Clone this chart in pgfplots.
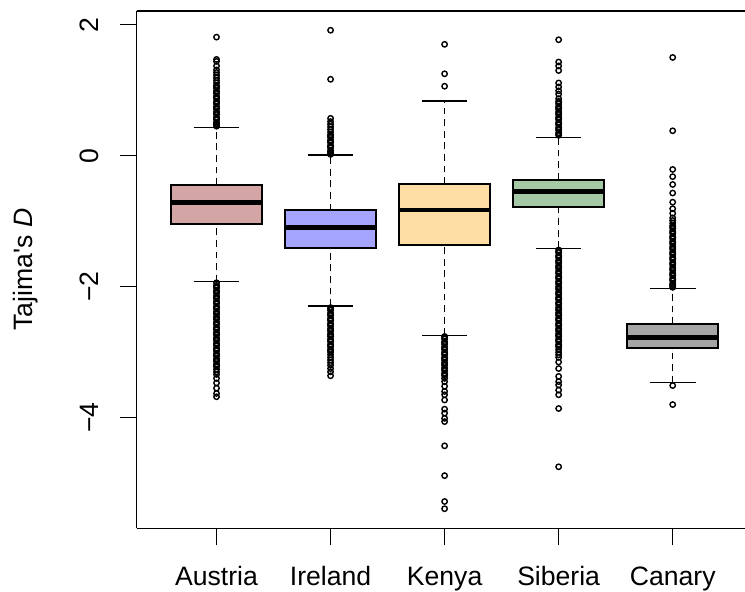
\documentclass[border=0pt]{standalone}
\usepackage{fontspec}
\setmainfont{Liberation Sans}
\usepackage{pgfplots}
\pgfplotsset{compat=1.18}
\usepgfplotslibrary{statistics}
\definecolor{cA}{HTML}{D4A5A5}
\definecolor{cI}{HTML}{A5A5FF}
\definecolor{cK}{HTML}{FFDEA5}
\definecolor{cS}{HTML}{A5C9A5}
\definecolor{cC}{HTML}{A5A5A5}
\pgfplotsset{
  boxplot/draw direction=y,
  boxplot/draw/lower whisker/.code={%
    \draw[line width=0.65bp, dash pattern=on 3.4bp off 2.4bp]
      (boxplot box cs:\pgfplotsboxplotvalue{lower whisker},0.5) --
      (boxplot box cs:\pgfplotsboxplotvalue{lower quartile},0.5);
    \draw[line width=0.65bp]
      (boxplot whisker cs:\pgfplotsboxplotvalue{lower whisker},0) --
      (boxplot whisker cs:\pgfplotsboxplotvalue{lower whisker},1);
  },
  boxplot/draw/upper whisker/.code={%
    \draw[line width=0.65bp, dash pattern=on 3.4bp off 2.4bp]
      (boxplot box cs:\pgfplotsboxplotvalue{upper quartile},0.5) --
      (boxplot box cs:\pgfplotsboxplotvalue{upper whisker},0.5);
    \draw[line width=0.65bp]
      (boxplot whisker cs:\pgfplotsboxplotvalue{upper whisker},0) --
      (boxplot whisker cs:\pgfplotsboxplotvalue{upper whisker},1);
  },
  boxplot/every box/.style={line width=0.9bp},
  boxplot/every median/.style={line width=2.3bp},
  rb/.style={draw=black, fill=#1, mark=o, mark size=1.35bp,
    mark options={line width=0.7bp, solid, draw=black, fill=none}},
}
\begin{document}
\begin{tikzpicture}
\begin{axis}[
  scale only axis, width=304.15bp, height=258.65bp,
  xmin=0.3, xmax=5.634, ymin=-5.689, ymax=2.209,
  separate axis lines, axis x line*=box, axis y line*=left,
  axis line style={line width=0.8bp},
  xtick={1,2,3,4,5}, xticklabels={Austria,Ireland,Kenya,Siberia,Canary},
  xtick pos=left,
  ytick={-4,-2,0,2}, yticklabels={−4,−2,0,2},
  tick align=outside, major tick length=8.5bp,
  tick style={line width=0.6bp, black},
  every tick label/.append style={font=\fontsize{13.3bp}{16bp}\selectfont},
  yticklabel style={rotate=90, anchor=south, inner sep=0pt},
  xticklabel style={anchor=north, inner sep=0pt},
  yticklabel shift=10.5bp, xticklabel shift=10.5bp,
  every axis y label/.style={at={(axis description cs:-0.1705,0.5)}, rotate=90, anchor=base, font=\fontsize{13.3bp}{16bp}\selectfont},
  ylabel={Tajima\textquotesingle s \textit{D}},
]
% Austria
\addplot[rb=cA, boxplot prepared={draw position=1, lower whisker=-1.924, lower quartile=-1.038, median=-0.718, upper quartile=-0.447, upper whisker=0.428, box extend=0.8, whisker extend=0.4}]
 table[row sep=\\, y index=0] {
 1.81\\ 1.47\\ 1.44\\ 1.37\\ 1.31\\ 1.27\\ 1.23\\ 1.19\\ 1.15\\ 1.11\\ 1.07\\ 1.03\\ 0.99\\ 0.95\\ 0.91\\ 0.87\\ 0.83\\ 0.79\\ 0.75\\ 0.71\\ 0.67\\ 0.63\\ 0.59\\ 0.55\\ 0.51\\ 0.47\\ 0.45\\
 1.05\\ 0.97\\ 0.89\\ 0.81\\ 0.73\\ 0.65\\ 0.57\\ 0.49\\
 -1.94\\ -1.98\\ -2.02\\ -2.06\\ -2.10\\ -2.14\\ -2.18\\ -2.22\\ -2.26\\ -2.30\\ -2.34\\ -2.38\\ -2.42\\ -2.46\\ -2.50\\ -2.54\\ -2.58\\ -2.62\\ -2.66\\ -2.70\\ -2.74\\ -2.78\\ -2.82\\ -2.86\\ -2.90\\ -2.94\\ -2.98\\ -3.02\\ -3.06\\ -3.10\\ -3.14\\ -3.18\\ -3.22\\ -3.26\\ -3.30\\ -3.34\\ -3.40\\ -3.47\\ -3.55\\ -3.63\\ -3.68\\
 -2.00\\ -2.08\\ -2.16\\ -2.24\\ -2.32\\ -2.40\\ -2.48\\ -2.56\\ -2.64\\ -2.72\\ -2.80\\ -2.88\\ -2.96\\ -3.04\\ -3.12\\ -3.20\\
 };
% Ireland
\addplot[rb=cI, boxplot prepared={draw position=2, lower whisker=-2.295, lower quartile=-1.414, median=-1.099, upper quartile=-0.834, upper whisker=0.01, box extend=0.8, whisker extend=0.4}]
 table[row sep=\\, y index=0] {
 1.915\\ 1.166\\ 0.57\\ 0.52\\ 0.48\\ 0.44\\ 0.40\\ 0.36\\ 0.32\\ 0.28\\ 0.24\\ 0.20\\ 0.16\\ 0.12\\ 0.08\\ 0.04\\ 0.02\\
 0.30\\ 0.22\\ 0.14\\ 0.06\\
 -2.32\\ -2.36\\ -2.40\\ -2.44\\ -2.48\\ -2.52\\ -2.56\\ -2.60\\ -2.64\\ -2.68\\ -2.72\\ -2.76\\ -2.80\\ -2.84\\ -2.88\\ -2.92\\ -2.96\\ -3.00\\ -3.04\\ -3.08\\ -3.12\\ -3.16\\ -3.20\\ -3.25\\ -3.30\\ -3.36\\
 -2.34\\ -2.42\\ -2.50\\ -2.58\\ -2.66\\ -2.74\\ -2.82\\ -2.90\\ -2.98\\
 };
% Kenya
\addplot[rb=cK, boxplot prepared={draw position=3, lower whisker=-2.742, lower quartile=-1.363, median=-0.829, upper quartile=-0.432, upper whisker=0.835, box extend=0.8, whisker extend=0.4}]
 table[row sep=\\, y index=0] {
 1.70\\ 1.25\\ 1.06\\
 -2.76\\ -2.80\\ -2.84\\ -2.88\\ -2.92\\ -2.96\\ -3.00\\ -3.04\\ -3.08\\ -3.12\\ -3.16\\ -3.20\\ -3.24\\ -3.28\\ -3.32\\ -3.36\\ -3.40\\ -3.45\\ -3.52\\ -3.60\\ -3.65\\ -3.73\\ -3.87\\ -3.93\\ -4.01\\ -4.06\\ -4.43\\ -4.885\\ -5.28\\ -5.39\\
 -2.78\\ -2.86\\ -2.94\\ -3.02\\ -3.10\\ -3.18\\ -3.26\\ -3.34\\
 };
% Siberia
\addplot[rb=cS, boxplot prepared={draw position=4, lower whisker=-1.414, lower quartile=-0.783, median=-0.55, upper quartile=-0.366, upper whisker=0.275, box extend=0.8, whisker extend=0.4}]
 table[row sep=\\, y index=0] {
 1.77\\ 1.43\\ 1.37\\ 1.30\\ 1.11\\ 1.05\\ 0.99\\ 0.94\\ 0.87\\ 0.83\\ 0.79\\ 0.75\\ 0.71\\ 0.67\\ 0.63\\ 0.59\\ 0.55\\ 0.51\\ 0.47\\ 0.43\\ 0.39\\ 0.35\\ 0.31\\
 0.81\\ 0.73\\ 0.65\\ 0.57\\ 0.49\\ 0.41\\ 0.33\\
 -1.44\\ -1.48\\ -1.52\\ -1.56\\ -1.60\\ -1.64\\ -1.68\\ -1.72\\ -1.76\\ -1.80\\ -1.84\\ -1.88\\ -1.92\\ -1.96\\ -2.00\\ -2.04\\ -2.08\\ -2.12\\ -2.16\\ -2.20\\ -2.24\\ -2.28\\ -2.32\\ -2.36\\ -2.40\\ -2.44\\ -2.48\\ -2.52\\ -2.56\\ -2.60\\ -2.64\\ -2.68\\ -2.72\\ -2.76\\ -2.80\\ -2.84\\ -2.88\\ -2.92\\ -2.96\\ -3.00\\ -3.04\\ -3.08\\ -3.15\\ -3.25\\ -3.37\\ -3.45\\ -3.50\\ -3.58\\ -3.65\\ -3.86\\ -4.75\\
 -1.46\\ -1.54\\ -1.62\\ -1.70\\ -1.78\\ -1.86\\ -1.94\\ -2.02\\ -2.10\\ -2.18\\ -2.26\\ -2.34\\ -2.42\\ -2.50\\ -2.58\\ -2.66\\ -2.74\\ -2.82\\ -2.90\\
 };
% Canary
\addplot[rb=cC, boxplot prepared={draw position=5, lower whisker=-3.466, lower quartile=-2.94, median=-2.773, upper quartile=-2.57, upper whisker=-2.03, box extend=0.8, whisker extend=0.4}]
 table[row sep=\\, y index=0] {
 1.50\\ 0.38\\ -0.21\\ -0.32\\ -0.44\\ -0.57\\ -0.71\\ -0.81\\ -0.88\\ -0.95\\ -0.99\\ -1.03\\ -1.07\\ -1.11\\ -1.15\\ -1.19\\ -1.23\\ -1.27\\ -1.31\\ -1.35\\ -1.39\\ -1.43\\ -1.47\\ -1.51\\ -1.55\\ -1.59\\ -1.63\\ -1.67\\ -1.71\\ -1.75\\ -1.79\\ -1.83\\ -1.87\\ -1.91\\ -1.95\\ -1.99\\ -2.01\\
 -1.09\\ -1.17\\ -1.25\\ -1.33\\ -1.41\\ -1.49\\ -1.57\\ -1.65\\ -1.73\\ -1.81\\ -1.89\\ -1.97\\
 -3.51\\ -3.80\\
 };
\end{axis}
\pgfresetboundingbox
\path (current axis.south west) ++(-68.35bp,-31.85bp) rectangle ++(372.5bp,296bp);
\end{tikzpicture}
\end{document}
